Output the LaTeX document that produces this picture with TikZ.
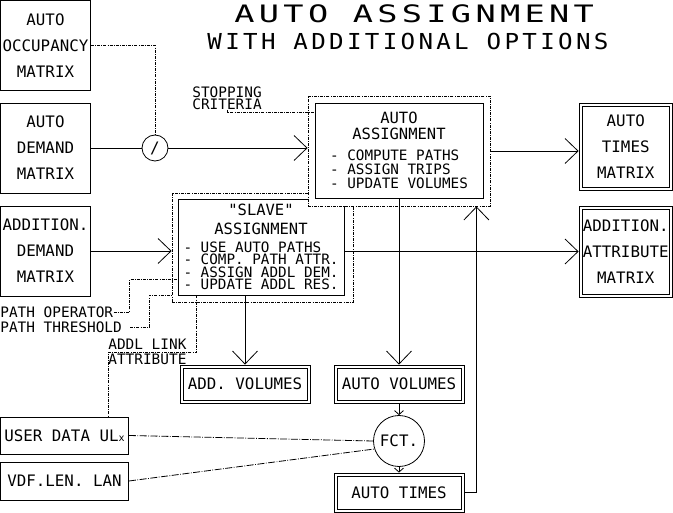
\documentclass[tikz,border=0pt]{standalone}
\usepackage{fontspec}
\setmainfont[Ligatures=TeXOff]{DejaVu Sans Mono}
\newfontfamily\headfontA[FakeStretch=1.4, LetterSpace=18]{DejaVu Sans Mono}
\newfontfamily\headfontB[FakeStretch=1.1, LetterSpace=15]{DejaVu Sans Mono}
\usetikzlibrary{arrows.meta,calc}

\newcommand\boxfont{\fontsize{15.8}{26}\selectfont}
\newcommand\notefont{\fontsize{14.4}{12}\selectfont}
\newcommand\itemfont{\fontsize{14.3}{12.3}\selectfont}

\tikzset{
  box/.style={draw, line width=0.8pt, inner sep=1pt, align=center, font=\boxfont},
  dbox/.style={box, path picture={
      \draw[line width=0.8pt] ([shift={(3pt,-3pt)}]path picture bounding box.north west)
        rectangle ([shift={(-3pt,3pt)}]path picture bounding box.south east);}},
  dotframe/.style={draw, line width=0.8pt, dash pattern=on 3pt off 1.2pt on 0.8pt off 1.2pt},
  infoline/.style={line width=0.8pt, dash pattern=on 3pt off 1.2pt on 0.8pt off 1.2pt},
  userline/.style={line width=0.8pt, dash pattern=on 7pt off 1.5pt on 0.8pt off 1.5pt},
  note/.style={inner sep=0pt, align=left, font=\notefont},
  smallhead/.style={-{Straight Barb[length=4pt,width=9pt]}},
}

\begin{document}
\begin{tikzpicture}[x=1pt, y=-1pt, line width=0.8pt, >={Straight Barb[length=13pt,width=25pt]}]
\path[use as bounding box, fill=white] (0,0) rectangle (673,513);

% title
\node[inner sep=0pt, anchor=base west] (head1) at (234,23) {\fontsize{24}{24}\headfontA AUTO ASSIGNMENT};
\node[inner sep=0pt, anchor=base west] (head2) at (207,50) {\fontsize{22}{22}\headfontB WITH ADDITIONAL OPTIONS};

% inputs
\node[box, minimum width=90, minimum height=90] (occ) at (45.5,45.5) {AUTO\\OCCUPANCY\\MATRIX};
\node[box, minimum width=90, minimum height=90] (dem) at (45.5,148) {AUTO\\DEMAND\\MATRIX};
\node[box, minimum width=90, minimum height=90] (adem) at (45.5,251) {ADDITION.\\DEMAND\\MATRIX};
\node[box, minimum width=128, minimum height=37] (udata) at (64.5,435.5) {USER DATA UL{\fontsize{10}{10}\selectfont x}};
\node[box, minimum width=128, minimum height=38] (vdf) at (64.5,481) {VDF.LEN. LAN};

% outputs
\node[dbox, minimum width=93.5, minimum height=87] (atmat) at (625.75,146.5) {AUTO\\TIMES\\MATRIX};
\node[dbox, minimum width=93.5, minimum height=91] (aamat) at (625.75,251.5) {ADDITION.\\ATTRIBUTE\\MATRIX};
\node[dbox, minimum width=130, minimum height=38] (addvol) at (245,384) {ADD. VOLUMES};
\node[dbox, minimum width=130, minimum height=38] (autovol) at (399,384) {AUTO VOLUMES};
\node[dbox, minimum width=130, minimum height=39.5] (autotimes) at (399,492.75) {AUTO TIMES};
\node[circle, draw, minimum size=51, inner sep=0pt, font=\boxfont] (fct) at (399,441) {FCT.};
\node[circle, draw, minimum size=26, inner sep=0pt, font=\boxfont] (ratio) at (155,148) {/};

% slave assignment, partly behind the auto frame
\node[dotframe, minimum width=181, minimum height=109] (slavefr) at (262.5,247.5) {};
\node[box, minimum width=166, minimum height=96, font=\fontsize{15.5}{19}\selectfont] (slave) at (261,247)
  {"SLAVE"\\ASSIGNMENT\\[-1pt]\vtop{\itemfont\hbox{- USE AUTO PATHS}\hbox{- COMP. PATH ATTR.}\hbox{- ASSIGN ADDL DEM.}\hbox{- UPDATE ADDL RES.}}};

% auto assignment
\node[dotframe, fill=white, minimum width=182, minimum height=110] (autofr) at (399,151) {};
\node[box, minimum width=168, minimum height=95, font=\fontsize{15.5}{16}\selectfont] (autoasg) at (399,150.5)
  {AUTO\\ASSIGNMENT\\[5pt]\vtop{\fontsize{14.3}{14}\selectfont\hbox{- COMPUTE PATHS}\hbox{- ASSIGN TRIPS}\hbox{- UPDATE VOLUMES}}};

% notes
\node[note, anchor=north west] (stopcrit) at (192,86) {STOPPING\\CRITERIA};
\node[note, anchor=west] (pathop) at (0,312) {PATH OPERATOR};
\node[note, anchor=west] (pathth) at (0,327) {PATH THRESHOLD};
\node[note, anchor=north west, font=\fontsize{14.4}{15}\selectfont] (addl) at (108,339) {ADDL LINK\\ATTRIBUTE};

% connectors
\draw[infoline] (occ.east) -| (ratio.north);
\draw (dem.east) -- (ratio.west);
\draw[->] (ratio.east) -- (ratio.east -| autofr.west);
\draw[infoline] (stopcrit.south) |- ($(autoasg.north west)+(0,10)$);
\draw[->] (autofr.east) -- (autofr.east -| atmat.west);
\draw[->] (adem.east) -- (adem.east -| slavefr.west);
\draw[->] (slave.east |- aamat.west) -- (aamat.west);
\draw[->] (slave.south -| addvol.north) -- (addvol.north);
\draw[->] (autoasg.south) -- (autovol.north);
\draw[smallhead] (autovol.south) -- (fct.north);
\draw[smallhead] (fct.south) -- (autotimes.north);
\draw[->] (autotimes.east) -| ($(autofr.south east)+(-14,0)$);
\draw[infoline] (pathop.east) -- ++(16,0) |- ($(slave.south west)+(0,-16)$);
\draw[infoline, shorten <=8pt] (pathth.east) -- ++(27,0) |- (slavefr.west |- slave.south);
\draw[infoline] ($(slave.south west)+(19,0)$) |- (addl.west) -- (addl.west |- udata.north);
\draw[userline] (udata.east) -- (fct.west);
\draw[userline] (vdf.east) -- (fct.198);
\end{tikzpicture}
\end{document}
